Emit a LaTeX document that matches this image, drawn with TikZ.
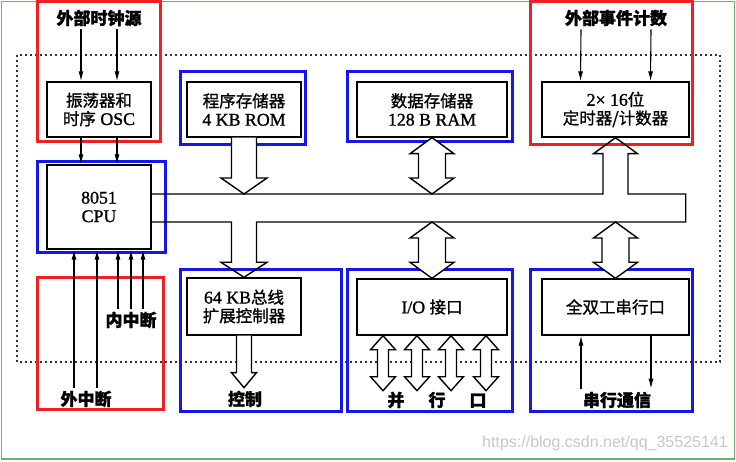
\documentclass[tikz,border=0pt]{standalone}
\usepackage{fontspec}
\setmainfont{Liberation Serif}[Scale=1.08, FakeBold=1.2]
\setsansfont{Liberation Sans}
\newfontfamily\cjk{Noto Sans CJK SC}[FakeBold=1.2]
\usetikzlibrary{positioning,arrows.meta,calc}
\definecolor{boxred}{RGB}{238,32,36}
\definecolor{boxblue}{RGB}{22,22,232}
\definecolor{framegreen}{RGB}{112,176,112}
\newcommand\zh[1]{{\cjk #1}}
\newcommand\unitfont{\fontsize{16.5}{18.5}\selectfont}
\newcommand\lblfont{\fontsize{17}{19}\selectfont\bfseries}
% hollow double arrow: top tip, bottom tip, head half width, shaft half width, head length
\newcommand\fatdbl[5]{\draw[fat] (#1) -- ($(#1)+(#3,#5)$) -- ($(#1)+(#4,#5)$) -- ($(#2)+(#4,-#5)$) -- ($(#2)+(#3,-#5)$) -- (#2) -- ($(#2)+(-#3,-#5)$) -- ($(#2)+(-#4,-#5)$) -- ($(#1)+(-#4,#5)$) -- ($(#1)+(-#3,#5)$) -- cycle;}
% hollow single arrow pointing down: start, tip, head half width, shaft half width, head length
\newcommand\fatdown[5]{\draw[fat] ($(#1)+(-#4,0)$) -- ($(#2)+(-#4,-#5)$) -- ($(#2)+(-#3,-#5)$) -- (#2) -- ($(#2)+(#3,-#5)$) -- ($(#2)+(#4,-#5)$) -- ($(#1)+(#4,0)$);}
\tikzset{
    redbox/.style={draw=boxred, line width=3pt, inner sep=0pt},
    bluebox/.style={draw=boxblue, line width=3pt, inner sep=0pt},
    wh/.style 2 args={minimum width=#1pt, minimum height=#2pt},
    unit/.style={draw=black, line width=1.4pt, fill=white, inner sep=0pt, align=center, font=\unitfont},
    lbl/.style={font=\lblfont, inner sep=3pt},
    sig/.style={-{Latex[length=10pt,width=5pt]}, line width=1.1pt},
    fat/.style={draw=black, fill=white, line width=1.4pt, line join=miter},
    buswire/.style={draw=black, line width=1.4pt, line join=miter},
    chip/.style={draw=black!80, line width=1.8pt, dash pattern=on 1.8pt off 3.2pt}
}
\begin{document}
\begin{tikzpicture}[x=1pt,y=-1pt]
\useasboundingbox (0,0) rectangle (736,462);
\draw[framegreen, line width=1.5pt] (1.5,1.5) rectangle (734.5,459);
\draw[chip] (17,55) rectangle (720,362);

% coloured frames
\node[redbox, wh={123}{140}] (clkR) at (98.5,72) {};
\node[bluebox, wh={128}{91}] (cpuB) at (101,207.5) {};
\node[bluebox, wh={125}{73}] (romB) at (242.5,108.5) {};
\node[bluebox, wh={165}{70}] (ramB) at (429.5,107) {};
\node[redbox, wh={162}{143}] (tmrR) at (611,73.5) {};
\node[bluebox, wh={161}{141}] (extB) at (260.5,340.5) {};
\node[bluebox, wh={165}{141}] (ioB) at (429.5,340.5) {};
\node[bluebox, wh={162}{141}] (serB) at (611,340.5) {};
\node[redbox, wh={126}{131}] (intR) at (100,343.5) {};

% units
\node[unit, wh={104}{55}] (osc) at (99,109.5) {\zh{振荡器和}\\\zh{时序} OSC};
\node[unit, wh={104}{84}] (cpu) at (99,207) {8051\\CPU};
\node[unit, wh={114}{55}] (rom) at (244,109.5) {\zh{程序存储器}\\4 KB ROM};
\node[unit, wh={150}{55}] (ram) at (432,109.5) {\zh{数据存储器}\\128 B RAM};
\node[unit, wh={147}{55}] (tmr) at (615.5,109.5) {2× 16\zh{位}\\\zh{定时器/计数器}};
\node[unit, wh={114}{57}] (ext) at (244,306.5) {64 KB\zh{总线}\\\zh{扩展控制器}};
\node[unit, wh={150}{56}] (io) at (432,307) {I/O \zh{接口}};
\node[unit, wh={147}{56}] (ser) at (615.5,307) {\zh{全双工串行口}};

% labels
\node[lbl] (clksrc) at (99,18) {\zh{外部时钟源}};
\node[lbl] (evt) at (616,18) {\zh{外部事件计数}};
\node[lbl] (intint) at (131,320) {\zh{内中断}};
\node[lbl] (extint) at (86,399) {\zh{外中断}};
\node[lbl] (ctrl) at (245,399) {\zh{控制}};
\node[lbl] (par) at (437,400) {\zh{并}\hspace{24pt}\zh{行}\hspace{24pt}\zh{口}};
\node[lbl] (serlbl) at (617,400) {\zh{串行通信}};
\node[font=\sffamily\fontsize{16}{18}\selectfont, text=black!22] (mark) at (605,443) {https://blog.csdn.net/qq\_35525141};

% bus levels
\coordinate (bt) at (0,194);
\coordinate (bb) at (0,222);

% hollow arrows
\fatdown{rom.south}{rom.south |- bt}{23}{12.5}{16}
\fatdbl{ram.south}{ram.south |- bt}{22}{13.5}{16}
\fatdbl{io.north |- bb}{io.north}{22}{13.5}{16}
\fatdbl{ser.north |- bb}{ser.north}{22}{13.5}{16}
\foreach \dx [count=\i] in {-49,-15,19,54} {
    \coordinate (pt\i) at ($(io.south)+(\dx,0)$);
    \coordinate (pb\i) at ($(io.south)+(\dx,55)$);
    \fatdbl{pt\i}{pb\i}{12.5}{5.5}{14}
}
\fatdown{ext.south}{ext.south |- ctrl.north}{12.5}{7.5}{15}

% internal bus
\draw[buswire] (cpu.east |- bt) -- ($(tmr.south |- bt)+(-12.5,0)$) -- ($(tmr.south)+(-12.5,16)$) -- ($(tmr.south)+(-22,16)$) -- (tmr.south) -- ($(tmr.south)+(22,16)$) -- ($(tmr.south)+(12.5,16)$) -- ($(tmr.south |- bt)+(12.5,0)$) -- ($(tmr.east |- bt)+(-4,0)$) -- ($(tmr.east |- bb)+(-4,0)$) -- ($(ext.north |- bb)+(12.5,0)$) -- ($(ext.north)+(12.5,-15)$) -- ($(ext.north)+(23,-15)$) -- (ext.north) -- ($(ext.north)+(-23,-15)$) -- ($(ext.north)+(-12.5,-15)$) -- ($(ext.north |- bb)+(-12.5,0)$) -- (cpu.east |- bb);

% signal lines
\foreach \dx in {-18,18} {
    \draw[sig] ($(clksrc.south)+(\dx,0)$) -- ($(osc.north)+(\dx,0)$);
    \draw[sig] ($(osc.south)+(\dx,0)$) -- ($(cpu.north)+(\dx,0)$);
}
\foreach \dx in {-35,35}
    \draw[sig] ($(evt.south)+(\dx,0)$) -- ($(tmr.north)+(\dx,0)$);
\foreach \dx in {-12,11}
    \draw[sig] ($(extint.north)+(\dx,0)$) coordinate (s) -- (s |- cpu.south);
\foreach \dx in {-13,0,12}
    \draw[sig] ($(intint.north)+(\dx,0)$) coordinate (s) -- (s |- cpu.south);
\draw[sig] ($(serlbl.north)+(-36,0)$) coordinate (s) -- (s |- ser.south);
\draw[sig] ($(ser.south)+(35.5,0)$) coordinate (s) -- (s |- serlbl.north);
\end{tikzpicture}
\end{document}
